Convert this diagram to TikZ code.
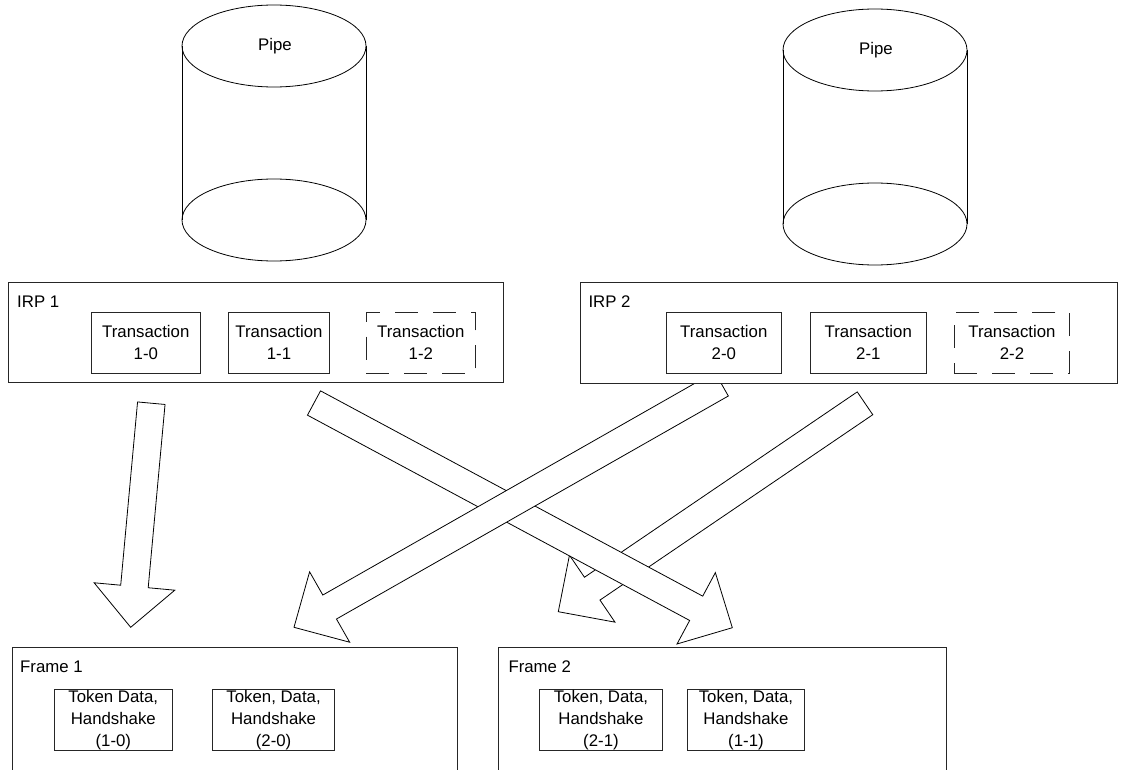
\documentclass[tikz,border=0pt]{standalone}
\usepackage{fontspec}
\setmainfont{Liberation Sans}
\usetikzlibrary{calc, positioning}
\newcommand{\boxFont}{\fontsize{16.8}{22}\selectfont}
\newcommand{\DrawPipe}[3]{
    \begin{scope}[shift={(#1,#2)}]
        \draw[pipeLine] (-92,0) -- (-92,174);
        \draw[pipeLine] (92,0) -- (92,174);
        \draw[pipeLine] (0,0) ellipse [x radius=92pt, y radius=41pt];
        \draw[pipeLine] (0,174) ellipse [x radius=92pt, y radius=41pt];
        \node[tagText, anchor=center] (#3) at (1,0) {Pipe};
    \end{scope}
}
\newcommand{\BlockArrow}[2]{
    \coordinate (neck) at ($(#2)!41pt!(#1)$);
    \draw[blockArrow] ($(#1)!13.8pt!90:(#2)$) -- ($(neck)!13.8pt!90:(#2)$) -- ($(neck)!40.5pt!90:(#2)$) -- (#2)
        -- ($(neck)!40.5pt!-90:(#2)$) -- ($(neck)!13.8pt!-90:(#2)$) -- ($(#1)!13.8pt!-90:(#2)$) -- cycle;
}
\tikzset{
    % Common
    pipeLine/.style={draw=black, line width=0.8pt},
    blockArrow/.style={draw=black, fill=white, line width=0.8pt, line join=miter},
    tagText/.style={anchor=west, inner sep=0pt, font=\boxFont},
    % Boxes
    outerBox/.style={rectangle, draw=black!85, fill=white, line width=0.9pt, anchor=north west, inner sep=0pt},
    txBox/.style={rectangle, draw=black!85, fill=white, line width=0.9pt, anchor=north west, inner sep=0pt,
        minimum height=61pt, align=center, font=\boxFont},
    txGhost/.style={txBox, dash pattern=on 23pt off 15pt},
    tokBox/.style={txBox, minimum height=60.7pt}
}
\begin{document}
\begin{tikzpicture}[x=1pt, y=-1pt]
    \useasboundingbox (0,0) rectangle (1123,770);
    \clip (0,0) rectangle (1123,770);

    % Pipes
    \DrawPipe{274}{46}{pipeA}
    \DrawPipe{875}{50}{pipeB}

    % Arrow ends
    \coordinate (fromA0) at (151.3,403.2);
    \coordinate (intoA0) at (130.7,627.3);
    \coordinate (fromA1) at (314,403);
    \coordinate (intoA1) at (732.3,627.7);
    \coordinate (fromB0) at (721.5,384);
    \coordinate (intoB0) at (294,627.3);
    \coordinate (fromB1) at (865,403.3);
    \coordinate (intoB1) at (558.3,611.7);

    % Block arrows (back to front)
    \BlockArrow{fromB1}{intoB1}
    \BlockArrow{fromA1}{intoA1}
    \BlockArrow{fromB0}{intoB0}
    \BlockArrow{fromA0}{intoA0}

    % IRP 1
    \node[outerBox, minimum width=495pt, minimum height=100pt] (irpA) at (8,282) {};
    \node[tagText] (irpLblA) at (17,302) {IRP 1};
    \node[txBox, minimum width=109.3pt] (trA0) at (90.7,311.7) {Transaction\\1-0};
    \node[txBox, minimum width=101.7pt] (trA1) at (227.7,311.7) {Transaction\\1-1};
    \node[txGhost, minimum width=109.3pt] (trA2) at (365.7,311.7) {Transaction\\1-2};

    % IRP 2
    \node[outerBox, minimum width=537pt, minimum height=101pt] (irpB) at (580,282) {};
    \node[tagText] (irpLblB) at (588.3,302) {IRP 2};
    \node[txBox, minimum width=115.3pt] (trB0) at (665.7,311.7) {Transaction\\2-0};
    \node[txBox, minimum width=115.7pt] (trB1) at (810,311.7) {Transaction\\2-1};
    \node[txGhost, minimum width=115pt] (trB2) at (954,311.7) {Transaction\\2-2};

    % Frames
    \node[outerBox, minimum width=445.6pt, minimum height=150pt] (frameA) at (11.7,646.7) {};
    \node[tagText] (frameLblA) at (20,667) {Frame 1};
    \node[tokBox, minimum width=117.7pt] (tokA0) at (54,689.3) {Token Data,\\Handshake\\(1-0)};
    \node[tokBox, minimum width=121.7pt] (tokB0) at (212.3,689.3) {Token, Data,\\Handshake\\(2-0)};

    \node[outerBox, minimum width=447.7pt, minimum height=150pt] (frameB) at (498.3,647.3) {};
    \node[tagText] (frameLblB) at (508.3,667) {Frame 2};
    \node[tokBox, minimum width=122.4pt] (tokB1) at (539.3,689.3) {Token, Data,\\Handshake\\(2-1)};
    \node[tokBox, minimum width=117.6pt] (tokA1) at (686.7,689.3) {Token, Data,\\Handshake\\(1-1)};
\end{tikzpicture}
\end{document}
